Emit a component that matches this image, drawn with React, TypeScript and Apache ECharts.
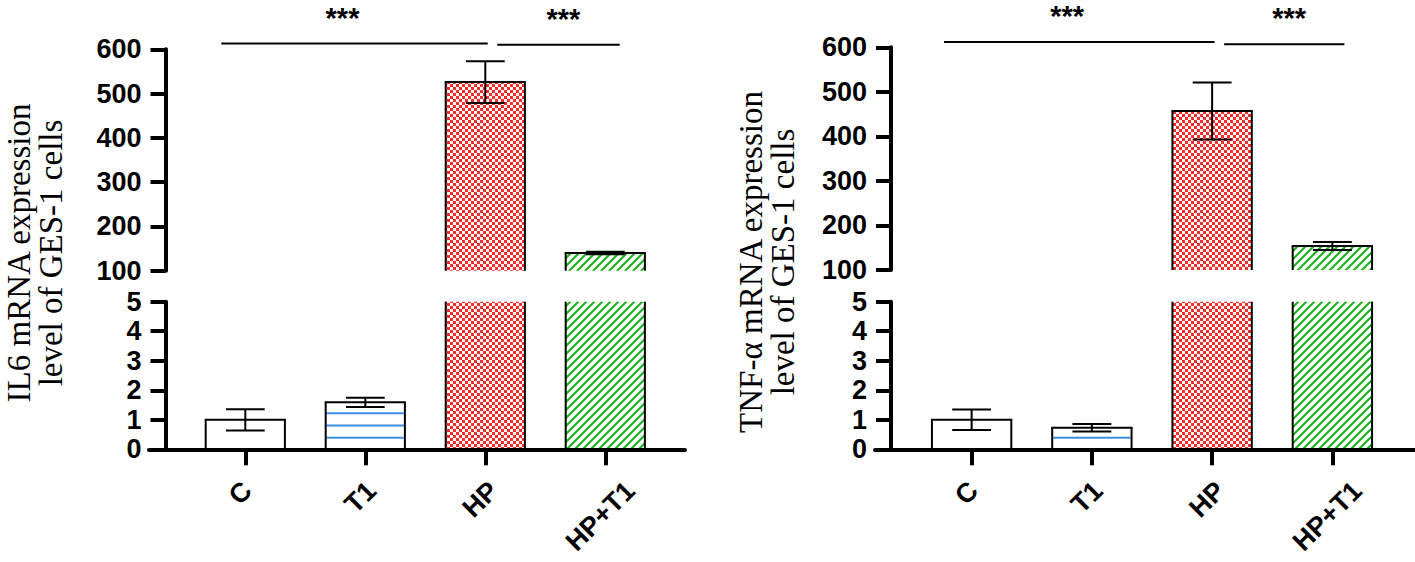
import React, { useEffect, useRef } from "react";
import * as echarts from "echarts";

// ---------- data ----------
const categories = ["C", "T1", "HP", "HP+T1"];
const il6Mean = [1.0, 1.59, 526, 140];
const il6Err = [0.36, 0.16, 47, 3];
const tnfMean = [1.0, 0.73, 457, 154];
const tnfErr = [0.35, 0.13, 64, 9];
const upperTicks = [100, 200, 300, 400, 500, 600];
const lowerTicks = [0, 1, 2, 3, 4, 5];
// significance brackets: [fromCat, toCat, label]
const il6Sig = [[0, 2, "***"], [2, 3, "***"]];
const il6SigY = [613, 610];
const tnfSig = [[0, 2, "***"], [2, 3, "***"]];
const tnfSigY = [612, 607];
const il6Title = "IL6 mRNA expression\nlevel of GES-1 cells";
const tnfTitle = "TNF-\u03b1 mRNA expression\nlevel of GES-1 cells";

const SANS = "'Liberation Sans', Arial, sans-serif";
const SERIF = "'Liberation Serif', 'Times New Roman', serif";
const XLABEL_SIZE = 27;

function makeChecker() {
  const c = document.createElement("canvas");
  c.width = 6; c.height = 6;
  const ctx = c.getContext("2d")!;
  ctx.fillStyle = "#ffffff"; ctx.fillRect(0, 0, 6, 6);
  ctx.fillStyle = "#ff2b2b";
  ctx.fillRect(0, 0, 3, 3); ctx.fillRect(3, 3, 3, 3);
  return { image: c, repeat: "repeat", imageWidth: 6, imageHeight: 6 };
}
function makeHatch() {
  const s = 8;
  const c = document.createElement("canvas");
  c.width = s; c.height = s;
  const ctx = c.getContext("2d")!;
  ctx.fillStyle = "#ffffff"; ctx.fillRect(0, 0, s, s);
  ctx.strokeStyle = "#1fb41f"; ctx.lineWidth = 2.2;
  ctx.beginPath();
  ctx.moveTo(-1, s + 1); ctx.lineTo(s + 1, -1);
  ctx.moveTo(-1, 1); ctx.lineTo(1, -1);
  ctx.moveTo(s - 1, s + 1); ctx.lineTo(s + 1, s - 1);
  ctx.stroke();
  return { image: c, repeat: "repeat", imageWidth: s, imageHeight: s };
}

export default function App() {
  const ref = useRef<HTMLDivElement>(null);
  useEffect(() => {
    if (!ref.current) return;
    const chart = echarts.init(ref.current, null, { renderer: "svg" });
    const fills: any[] = ["#ffffff", "#ffffff", makeChecker(), makeHatch()];

    const mctx = document.createElement("canvas").getContext("2d")!;
    mctx.font = `bold ${XLABEL_SIZE}px ${SANS}`;
    const labelW = categories.map((c) => mctx.measureText(c).width);

    const barRender = (params: any, api: any) => {
      const idx = api.value(0);
      const val = api.value(1);
      const err = api.value(2);
      const cs = params.coordSys;
      const gTop = cs.y, gBot = cs.y + cs.height;
      const pTop = api.coord([idx, val]);
      const cx = pTop[0];
      const yTop = pTop[1];
      const yBase = api.coord([idx, 0])[1];
      const bw = api.size([1, 0])[0] * 0.66;
      const top = Math.max(yTop, gTop);
      const bot = Math.min(yBase, gBot);
      const children: any[] = [];
      if (top < bot) {
        const x0 = cx - bw / 2, x1 = cx + bw / 2;
        children.push({ type: "rect", shape: { x: x0, y: top, width: bw, height: bot - top }, style: { fill: fills[idx] } });
        if (idx === 1) {
          for (let k = 0; ; k++) {
            const ly = bot - 11.6 - 12.2 * k;
            if (ly < top + 5) break;
            children.push({ type: "line", shape: { x1: x0 + 1, y1: ly, x2: x1 - 1, y2: ly }, style: { stroke: "#3f8fe6", lineWidth: 2 } });
          }
        }
        const bs = { stroke: "#000", lineWidth: 2 };
        children.push({ type: "line", shape: { x1: x0, y1: top, x2: x0, y2: bot }, style: bs });
        children.push({ type: "line", shape: { x1: x1, y1: top, x2: x1, y2: bot }, style: bs });
        if (yTop >= gTop) children.push({ type: "line", shape: { x1: x0 - 1, y1: top, x2: x1 + 1, y2: top }, style: bs });
        if (yBase <= gBot) children.push({ type: "line", shape: { x1: x0 - 1, y1: bot, x2: x1 + 1, y2: bot }, style: bs });
        const yHi = api.coord([idx, val + err])[1];
        const yLo = api.coord([idx, val - err])[1];
        if (yHi >= gTop - 1 && yLo <= gBot + 1) {
          const cw = bw * 0.49;
          const es = { stroke: "#000", lineWidth: 2 };
          children.push({ type: "line", shape: { x1: cx, y1: yHi, x2: cx, y2: yLo }, style: es });
          children.push({ type: "line", shape: { x1: cx - cw / 2, y1: yHi, x2: cx + cw / 2, y2: yHi }, style: es });
          children.push({ type: "line", shape: { x1: cx - cw / 2, y1: yLo, x2: cx + cw / 2, y2: yLo }, style: es });
        }
      }
      return { type: "group", children };
    };

    // sig data: [fromCat, fromFrac, toCat, toFrac, y, textFrac]
    const sigRender = (params: any, api: any) => {
      const bandW = api.size([1, 0])[0];
      const y = api.coord([api.value(0), api.value(4)])[1];
      const xa = api.coord([api.value(0), api.value(4)])[0] + api.value(1) * bandW;
      const xb = api.coord([api.value(2), api.value(4)])[0] + api.value(3) * bandW;
      const tx = (xa + xb) / 2 + api.value(5) * bandW;
      return {
        type: "group",
        children: [
          { type: "line", shape: { x1: xa, y1: y, x2: xb, y2: y }, style: { stroke: "#000", lineWidth: 2 } },
          { type: "text", x: tx, y: y - 26, style: { text: "***", fill: "#000", font: `bold 29px ${SANS}`, lineHeight: 20, align: "center", verticalAlign: "middle" } },
        ],
      };
    };

    // rotated category labels, top-aligned under the axis and centred on each tick
    const labelRender = (params: any, api: any) => {
      const idx = api.value(0);
      const p = api.coord([idx, 0]);
      const L = labelW[idx];
      const cy = p[1] + 30 + 0.354 * (L + 0.716 * XLABEL_SIZE);
      return {
        type: "text", x: p[0] - 5, y: cy, rotation: Math.PI / 4,
        style: { text: categories[idx], fill: "#000", font: `bold ${XLABEL_SIZE}px ${SANS}`, align: "center", verticalAlign: "middle" },
      };
    };

    const mkBars = (mean: number[], err: number[]) => mean.map((v, i) => [i, v, err[i]]);
    const mkSig = (sig: any[], ys: number[], fr: number[][]) =>
      sig.map((s, i) => [s[0], fr[i][0], s[1], fr[i][1], ys[i], fr[i][2]]);
    const labelData = categories.map((c, i) => [i, 0]);

    const panels = [
      { left: 185.3, width: 480, upTop: 49.3, upBot: 270.7, axisX: 165.5, baseLeft: 149, baseRight: 685 },
      { left: 911.5, width: 481, upTop: 47.3, upBot: 270, axisX: 891, baseLeft: 875, baseRight: 1415 },
    ];
    const loTop = 301.7, loBot = 449.3;

    const grids: any[] = [];
    const xAxes: any[] = [];
    const yAxes: any[] = [];
    const tickLabel = { color: "#000", fontSize: 27, fontWeight: "bold", fontFamily: SANS, margin: 24 };
    const axisLineStyle = { color: "#000", width: 4 };
    panels.forEach((p, pi) => {
      const gi = pi * 3;
      grids.push({ left: p.left, width: p.width, top: p.upTop, height: p.upBot - p.upTop });
      grids.push({ left: p.left, width: p.width, top: loTop, height: loBot - loTop });
      grids.push({ left: p.baseLeft, width: p.baseRight - p.baseLeft, top: loTop, height: loBot - loTop });
      xAxes.push({ type: "category", gridIndex: gi, data: categories, show: false });
      xAxes.push({
        type: "category", gridIndex: gi + 1, data: categories,
        axisLine: { show: false },
        axisTick: { show: true, alignWithLabel: true, length: 16, lineStyle: { color: "#000", width: 4 } },
        axisLabel: { show: false },
        splitLine: { show: false },
      });
      xAxes.push({
        type: "value", gridIndex: gi + 2, min: 0, max: 1, z: 10,
        axisLine: { show: true, onZero: false, lineStyle: axisLineStyle },
        axisTick: { show: false }, axisLabel: { show: false }, splitLine: { show: false },
      });
      yAxes.push({
        type: "value", gridIndex: gi, min: upperTicks[0], max: upperTicks[upperTicks.length - 1], interval: 100,
        offset: p.left - p.axisX,
        axisLine: { show: true, lineStyle: axisLineStyle },
        axisTick: { show: true, length: 15, lineStyle: { color: "#000", width: 4 } },
        axisLabel: tickLabel, splitLine: { show: false },
      });
      yAxes.push({
        type: "value", gridIndex: gi + 1, min: lowerTicks[0], max: lowerTicks[lowerTicks.length - 1], interval: 1,
        offset: p.left - p.axisX,
        axisLine: { show: true, lineStyle: axisLineStyle },
        axisTick: { show: true, length: 15, lineStyle: { color: "#000", width: 4 } },
        axisLabel: tickLabel, splitLine: { show: false },
      });
      yAxes.push({ type: "value", gridIndex: gi + 2, show: false });
    });

    const sigFr = [[-0.2, 0.02, -0.1], [0.1, 0.12, 0.04]];
    const sigFrR = [[-0.23, 0.02, -0.1], [0.1, 0.1, 0.04]];

    const series: any[] = [
      { type: "custom", xAxisIndex: 0, yAxisIndex: 0, renderItem: barRender, data: mkBars(il6Mean, il6Err), encode: { x: 0, y: 1 } },
      { type: "custom", xAxisIndex: 1, yAxisIndex: 1, renderItem: barRender, data: mkBars(il6Mean, il6Err), encode: { x: 0, y: 1 } },
      { type: "custom", xAxisIndex: 0, yAxisIndex: 0, renderItem: sigRender, data: mkSig(il6Sig, il6SigY, sigFr), encode: { x: 0, y: 4 } },
      { type: "custom", xAxisIndex: 1, yAxisIndex: 1, renderItem: labelRender, data: labelData, encode: { x: 0, y: 1 } },
      { type: "custom", xAxisIndex: 3, yAxisIndex: 3, renderItem: barRender, data: mkBars(tnfMean, tnfErr), encode: { x: 0, y: 1 } },
      { type: "custom", xAxisIndex: 4, yAxisIndex: 4, renderItem: barRender, data: mkBars(tnfMean, tnfErr), encode: { x: 0, y: 1 } },
      { type: "custom", xAxisIndex: 3, yAxisIndex: 3, renderItem: sigRender, data: mkSig(tnfSig, tnfSigY, sigFrR), encode: { x: 0, y: 4 } },
      { type: "custom", xAxisIndex: 4, yAxisIndex: 4, renderItem: labelRender, data: labelData, encode: { x: 0, y: 1 } },
    ];

    chart.setOption({
      animation: false,
      backgroundColor: "#ffffff",
      grid: grids,
      xAxis: xAxes,
      yAxis: yAxes,
      series,
      graphic: [
        { type: "text", x: 35, y: 253, rotation: Math.PI / 2, style: { text: il6Title, font: `33px ${SERIF}`, lineHeight: 32, fill: "#000", align: "center", verticalAlign: "middle" } },
        { type: "text", x: 767, y: 262, rotation: Math.PI / 2, style: { text: tnfTitle, font: `33px ${SERIF}`, lineHeight: 32, fill: "#000", align: "center", verticalAlign: "middle" } },
      ],
    });
    return () => chart.dispose();
  }, []);
  return <div ref={ref} style={{ position: "absolute", left: 0, top: 0, width: 1415, height: 562 }} />;
}
